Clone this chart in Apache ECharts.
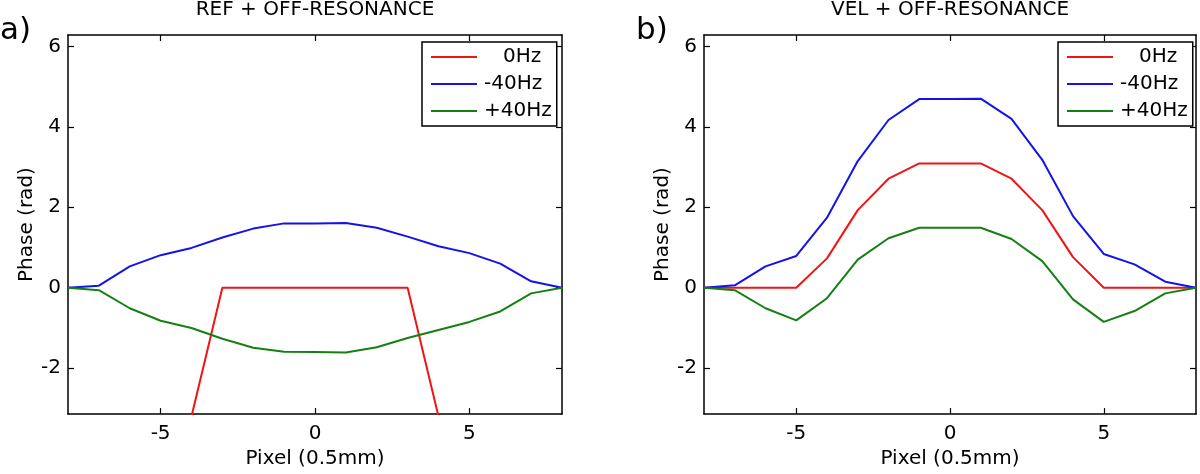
<!DOCTYPE html>
<html>
<head>
<meta charset="UTF-8">
<title>Phase profiles</title>
<script src="https://cdn.jsdelivr.net/npm/echarts@6.0.0/dist/echarts.min.js"></script>
<style>
  html, body { margin: 0; padding: 0; background: #fff; }
  #chart { width: 1200px; height: 474px; }
</style>
</head>
<body>
<div id="chart"></div>
<script>
// pixel positions along the profile
var pixels = [-8, -7, -6, -5, -4, -3, -2, -1, 0, 1, 2, 3, 4, 5, 6, 7, 8];

// a) REF + OFF-RESONANCE
var refZero = [null, null, null, null, -3.2, 0, 0, 0, 0, 0, 0, 0, -3.2, null, null, null, null];
var refMinus40 = [0, 0.05, 0.53, 0.81, 0.99, 1.25, 1.47, 1.60, 1.60, 1.61, 1.49, 1.27, 1.03, 0.86, 0.60, 0.16, 0];
var refPlus40 = [0, -0.06, -0.51, -0.82, -1.00, -1.27, -1.49, -1.59, -1.60, -1.61, -1.48, -1.25, -1.05, -0.85, -0.59, -0.14, 0];

// b) VEL + OFF-RESONANCE
var velZero = [0, 0, 0, 0, 0.73, 1.93, 2.71, 3.09, 3.09, 3.09, 2.71, 1.93, 0.76, 0, 0, 0, 0];
var velMinus40 = [0, 0.06, 0.53, 0.79, 1.74, 3.15, 4.17, 4.69, 4.69, 4.70, 4.20, 3.18, 1.78, 0.84, 0.58, 0.15, 0];
var velPlus40 = [0, -0.06, -0.51, -0.81, -0.26, 0.70, 1.23, 1.49, 1.49, 1.49, 1.21, 0.66, -0.29, -0.85, -0.58, -0.14, 0];

var seriesNames = ['   0Hz', '-40Hz', '+40Hz'];
var seriesColors = ['#f01414', '#1414e6', '#148014'];
var xTicks = [-5, 0, 5];
var yTicks = [-2, 0, 2, 4, 6];

var FONT = 'DejaVu Sans';
var chart = echarts.init(document.getElementById('chart'));

function pairs(ys) {
    return pixels.map(function (x, i) { return [x, ys[i]]; });
}

function lineSeries(name, color, ys, idx) {
    return {
        name: name,
        type: 'line',
        xAxisIndex: idx * 2,
        yAxisIndex: idx * 2,
        data: pairs(ys),
        symbol: 'none',
        clip: true,
        lineStyle: { color: color, width: 2 },
        itemStyle: { color: color }
    };
}

var frameLine = { show: true, onZero: false, lineStyle: { color: '#000', width: 1.5 } };

function xAxes(idx) {
    return [{
        type: 'value', gridIndex: idx, min: -8, max: 8,
        axisLine: frameLine,
        axisTick: { show: true, inside: true, length: 6, customValues: xTicks, lineStyle: { color: '#000', width: 1.2 } },
        axisLabel: { customValues: xTicks, fontSize: 20, fontFamily: FONT, color: '#000', margin: 10 },
        splitLine: { show: false },
        name: 'Pixel (0.5mm)', nameLocation: 'middle', nameGap: 33,
        nameTextStyle: { fontSize: 20, fontFamily: FONT, color: '#000' }
    }, {
        type: 'value', gridIndex: idx, min: -8, max: 8, position: 'top',
        axisLine: frameLine,
        axisTick: { show: true, inside: true, length: 6, customValues: xTicks, lineStyle: { color: '#000', width: 1.2 } },
        axisLabel: { show: false },
        splitLine: { show: false }
    }];
}

function yAxes(idx) {
    return [{
        type: 'value', gridIndex: idx, min: -Math.PI, max: 2 * Math.PI,
        axisLine: frameLine,
        axisTick: { show: true, inside: true, length: 6, customValues: yTicks, lineStyle: { color: '#000', width: 1.2 } },
        axisLabel: { customValues: yTicks, fontSize: 20, fontFamily: FONT, color: '#000', margin: 7 },
        splitLine: { show: false },
        name: 'Phase (rad)', nameLocation: 'middle', nameGap: 31,
        nameTextStyle: { fontSize: 20, fontFamily: FONT, color: '#000' }
    }, {
        type: 'value', gridIndex: idx, min: -Math.PI, max: 2 * Math.PI, position: 'right',
        axisLine: frameLine,
        axisTick: { show: true, inside: true, length: 6, customValues: yTicks, lineStyle: { color: '#000', width: 1.2 } },
        axisLabel: { show: false },
        splitLine: { show: false }
    }];
}

function legendAt(left) {
    return {
        data: seriesNames.map(function (n) { return { name: n, icon: 'rect' }; }),
        orient: 'vertical',
        left: left, top: 42,
        backgroundColor: '#fff',
        borderColor: '#000', borderWidth: 1.5, borderRadius: 0,
        padding: [5, 5, 5, 9],
        itemWidth: 46, itemHeight: 2, itemGap: 7,
        selectedMode: false,
        textStyle: { fontSize: 20, fontFamily: FONT, color: '#000', lineHeight: 20, padding: [0, 0, 0, 2] }
    };
}

var titleStyle = { fontSize: 20, fontWeight: 'normal', fontFamily: FONT, color: '#000' };
var tagStyle = { fontSize: 31, fontWeight: 'normal', fontFamily: FONT, color: '#000' };

var option = {
    backgroundColor: '#fff',
    animation: false,
    title: [
        { text: 'REF + OFF-RESONANCE', left: 315, top: 0, textAlign: 'center', padding: 0, textStyle: titleStyle },
        { text: 'VEL + OFF-RESONANCE', left: 950, top: 0, textAlign: 'center', padding: 0, textStyle: titleStyle },
        { text: 'a)', left: 0, top: 15, padding: 0, textStyle: tagStyle },
        { text: 'b)', left: 636, top: 15, padding: 0, textStyle: tagStyle }
    ],
    legend: [legendAt(422), legendAt(1058)],
    grid: [
        { left: 68, top: 35, width: 494, height: 384 },
        { left: 704, top: 35, width: 492, height: 384 }
    ],
    xAxis: xAxes(0).concat(xAxes(1)),
    yAxis: yAxes(0).concat(yAxes(1)),
    series: [
        lineSeries(seriesNames[0], seriesColors[0], refZero, 0),
        lineSeries(seriesNames[1], seriesColors[1], refMinus40, 0),
        lineSeries(seriesNames[2], seriesColors[2], refPlus40, 0),
        lineSeries(seriesNames[0], seriesColors[0], velZero, 1),
        lineSeries(seriesNames[1], seriesColors[1], velMinus40, 1),
        lineSeries(seriesNames[2], seriesColors[2], velPlus40, 1)
    ]
};

chart.setOption(option);
</script>
</body>
</html>
